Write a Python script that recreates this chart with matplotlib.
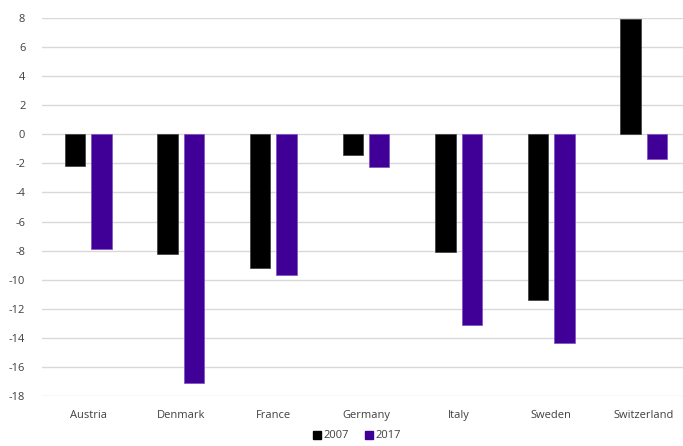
import matplotlib
matplotlib.use("Agg")
import matplotlib.pyplot as plt
import numpy as np
from matplotlib.patches import Patch

countries = ["Austria", "Denmark", "France", "Germany", "Italy", "Sweden", "Switzerland"]
years = ["2007", "2017"]
values_2007 = [-2.2, -8.2, -9.2, -1.45, -8.1, -11.4, 7.9]
values_2017 = [-7.9, -17.1, -9.7, -2.25, -13.15, -14.35, -1.7]
yticks = list(range(-18, 9, 2))

plt.rcParams['font.family'] = ['Open Sans', 'DejaVu Sans']

W, H = 683, 446
fig = plt.figure(figsize=(W / 100, H / 100), dpi=100)
left, right, top, bottom = 42, 690, 18, 396
ax = fig.add_axes([left / W, (H - bottom) / H, (right - left) / W, (bottom - top) / H])

x = np.arange(len(countries))
bw = 0.22
c07 = "#000000"
c17 = "#400098"
b1 = ax.bar(x - 0.143, values_2007, width=bw, color=c07, edgecolor="#3a3a3a", linewidth=0.5, zorder=3)
b2 = ax.bar(x + 0.143, values_2017, width=bw, color=c17, edgecolor="#7a4fc0", linewidth=0.5, zorder=3)
for p in list(b1) + list(b2):
    p.set_joinstyle('miter')

ax.set_xlim(-0.5, len(countries) - 0.5)
ax.set_ylim(-18, 8)
ax.set_yticks(yticks)
ax.set_yticklabels([str(v) for v in yticks])
ax.set_xticks(x)
ax.set_xticklabels(countries)
ax.tick_params(axis='both', length=0, labelsize=8, colors="#404040")
ax.tick_params(axis='y', pad=12)
ax.tick_params(axis='x', pad=10)
ax.grid(axis='y', color="#d9d9d9", linewidth=1.0, zorder=0)
for s in ax.spines.values():
    s.set_visible(False)

handles = [Patch(facecolor=c07, edgecolor=c07), Patch(facecolor=c17, edgecolor=c17)]
fig.legend(handles, years, loc='center', bbox_to_anchor=(357 / W, (H - 436) / H), ncol=2,
           frameon=False, fontsize=8, handlelength=0.7, handleheight=0.7,
           handletextpad=0.2, columnspacing=1.5, labelcolor="#404040")

fig.savefig("out.png", dpi=100)
